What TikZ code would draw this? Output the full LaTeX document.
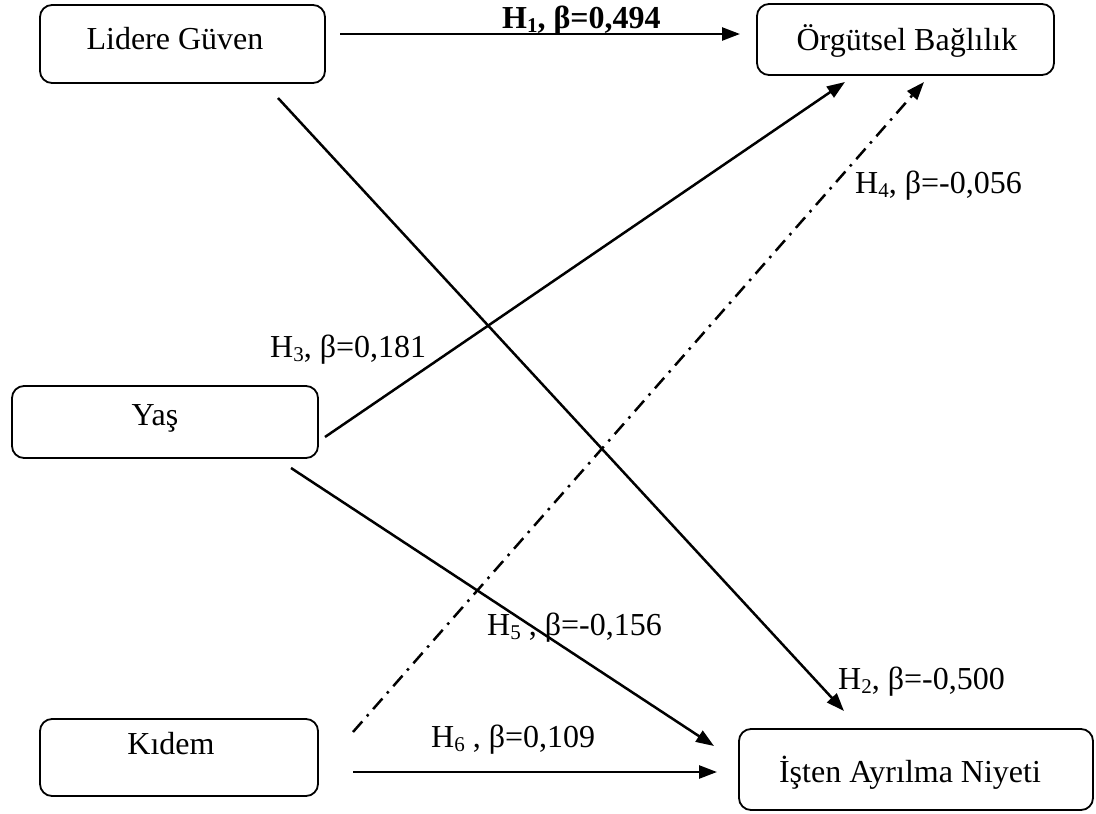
\documentclass[tikz,border=0pt]{standalone}
\usepackage{fontspec}
\setmainfont{Liberation Serif}
\usetikzlibrary{arrows.meta}
\newcommand{\lowidx}[1]{\raisebox{-0.28ex}{\fontsize{21}{21}\selectfont #1}}
\tikzset{
  box/.style={draw, line width=1.8pt, rounded corners=12pt, inner sep=0pt},
  boxtext/.style={anchor=base, inner sep=0pt, font=\fontsize{32}{38}\selectfont},
  lbl/.style={anchor=base west, inner sep=0pt, font=\fontsize{32}{38}\selectfont},
  conn/.style={line width=2.5pt, -{Triangle[length=18pt,width=13pt]}},
  dashdot/.style={dash pattern=on 14pt off 7pt on 2.5pt off 7pt}
}
\begin{document}
\begin{tikzpicture}[x=1pt,y=-1pt]
\useasboundingbox[fill=white] (0,0) rectangle (1096,814);
% boxes
\node[box, minimum width=285pt, minimum height=78pt] (lg) at (182.5,44) {};
\node[box, minimum width=297pt, minimum height=71pt] (ob) at (905.5,39.5) {};
\node[box, minimum width=306pt, minimum height=72pt] (ya) at (165,422) {};
\node[box, minimum width=278pt, minimum height=77pt] (kd) at (179,757.5) {};
\node[box, minimum width=354pt, minimum height=81pt] (ia) at (916,769.5) {};
% box texts
\node[boxtext] (lgt) at (175,49) {Lidere Güven};
\node[boxtext] (obt) at (907,50) {Örgütsel Bağlılık};
\node[boxtext] (yat) at (155,425) {Yaş};
\node[boxtext] (kdt) at (171,754) {Kıdem};
\node[boxtext] (iat) at (910,782) {İşten Ayrılma Niyeti};
% connector ends
\coordinate (h1s) at (340,34);
\coordinate (h1e) at (740,34);
\coordinate (h2s) at (278,98);
\coordinate (h2e) at (844,711);
\coordinate (h3s) at (325,437);
\coordinate (h3e) at (845,82);
\coordinate (h4s) at (353,732);
\coordinate (h4e) at (924,82);
\coordinate (h5s) at (291,468);
\coordinate (h5e) at (714,746);
\coordinate (h6s) at (353,772);
\coordinate (h6e) at (717,772);
% connectors
\draw[conn] (h1s) -- (h1e);
\draw[conn] (h2s) -- (h2e);
\draw[conn] (h3s) -- (h3e);
\draw[conn, dashdot] (h4s) -- (h4e);
\draw[conn] (h5s) -- (h5e);
\draw[conn] (h6s) -- (h6e);
% labels
\node[lbl, font=\fontsize{32}{38}\selectfont\bfseries] (l1) at (502,28) {H\lowidx{1}, β=0,494};
\node[lbl] (l2) at (838,689) {H\lowidx{2}, β=-0,500};
\node[lbl] (l3) at (270,357) {H\lowidx{3}, β=0,181};
\node[lbl] (l4) at (855,193) {H\lowidx{4}, β=-0,056};
\node[lbl] (l5) at (487,635) {H\lowidx{5} , β=-0,156};
\node[lbl] (l6) at (431,747) {H\lowidx{6} , β=0,109};
\end{tikzpicture}
\end{document}
